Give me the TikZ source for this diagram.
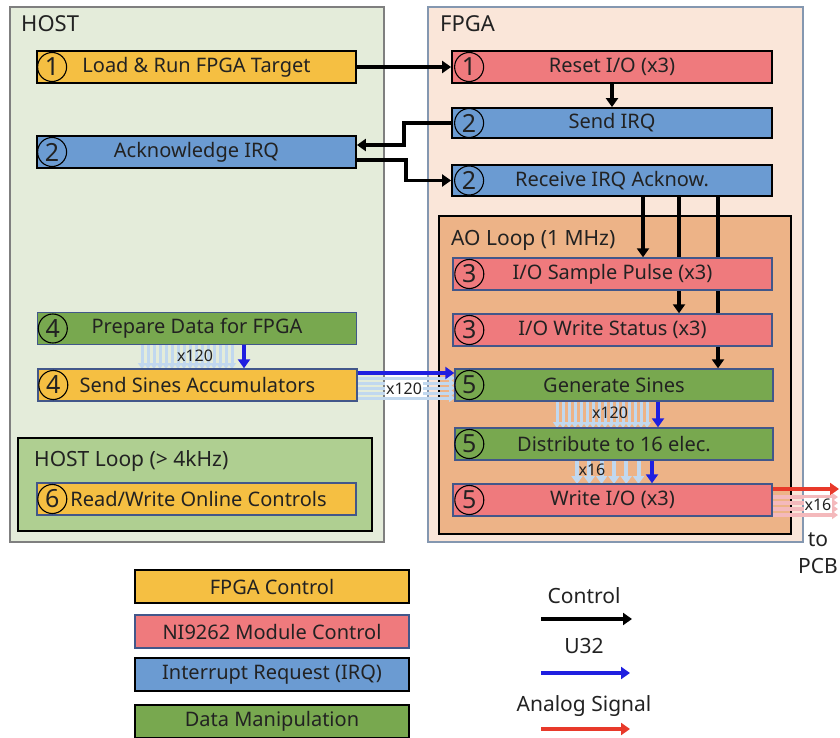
\documentclass[tikz,border=0pt]{standalone}
\usepackage{fontspec}
\setmainfont{Noto Sans}
\usetikzlibrary{arrows.meta,calc}
\definecolor{cOrange}{HTML}{F5BF42}
\definecolor{cRed}{HTML}{EF7A7D}
\definecolor{cBlue}{HTML}{6B9BD2}
\definecolor{cGreen}{HTML}{78A84F}
\definecolor{cHost}{HTML}{E4ECDA}
\definecolor{cFpga}{HTML}{FAE6D9}
\definecolor{cHostLoop}{HTML}{AFCF91}
\definecolor{cAoLoop}{HTML}{EDB387}
\definecolor{cBG}{HTML}{42578A}
\definecolor{cLB}{HTML}{C1D8EF}
\definecolor{cPink}{HTML}{F4B9BC}
\definecolor{cDB}{HTML}{1F1FE0}
\definecolor{cRA}{HTML}{E8392A}
\definecolor{cTxt}{HTML}{222222}
\definecolor{cHostB}{HTML}{7F7F7F}
\definecolor{cFpgaB}{HTML}{8497B0}
\pgfdeclarelayer{panel}
\pgfdeclarelayer{wire}
\pgfsetlayers{panel,wire,main}
\tikzset{
  bx/.style={draw=black, line width=1.8pt, minimum width=319pt, minimum height=32pt, inner sep=0pt,
    font=\fontsize{20}{22}\selectfont, text=cTxt},
  bgb/.style={draw=cBG, line width=1.4pt},
  lgbox/.style={bx, minimum width=274pt, minimum height=33pt},
  numc/.style={circle, draw=black, line width=1.1pt, minimum size=29pt, inner sep=0pt,
    font=\fontsize{25}{25}\selectfont, text=cTxt},
  ctrl/.style={draw=black, line width=3.5pt, -{Triangle[width=12pt,length=9pt]}},
  u32/.style={draw=cDB, line width=3.5pt, -{Triangle[width=12pt,length=9pt]}},
  ana/.style={draw=cRA, line width=3.5pt, -{Triangle[width=12pt,length=9pt]}},
  lbv/.style={draw=cLB, line width=3pt, -{Triangle[width=8pt,length=6pt]}},
  lbw/.style={draw=cLB, line width=4pt, -{Triangle[width=11pt,length=8pt]}},
  pk/.style={draw=cPink, line width=3.5pt, -{Triangle[width=8pt,length=6pt]}},
  ttl/.style={anchor=west, inner sep=0pt, font=\fontsize{22}{22}\selectfont, text=cTxt},
  loopttl/.style={anchor=west, inner sep=0pt, font=\fontsize{21}{21}\selectfont, text=cTxt},
  mult/.style={inner sep=1pt, font=\fontsize{16}{16}\selectfont, text=cTxt},
  lgtxt/.style={inner sep=0pt, font=\fontsize{21}{21}\selectfont, text=cTxt},
}
\newcommand\cnum[3]{\node[numc] (#1n) at ($(#1.west)+(#3,0)$) {#2};}
\begin{document}
\begin{tikzpicture}[x=1pt,y=-1pt]
\useasboundingbox (0,0) rectangle (840,738);
% panels
\begin{pgfonlayer}{panel}
  \draw[fill=cHost, draw=cHostB, line width=1.2pt] (10,7) rectangle (384,542);
  \draw[fill=cFpga, draw=cFpgaB, line width=1.2pt] (428,7) rectangle (803,542);
  \draw[fill=cHostLoop, draw=black, line width=1.8pt] (18,438) rectangle (372,531);
  \draw[fill=cAoLoop, draw=black, line width=1.8pt] (439,216) rectangle (791,534);
\end{pgfonlayer}
\node[ttl] (hostt) at (21,24) {HOST};
\node[ttl] (fpgat) at (440,24) {FPGA};
\node[loopttl] (hlt) at (34,461) {HOST Loop (> 4kHz)};
\node[loopttl] (aot) at (451,240) {AO Loop (1 MHz)};
% host boxes
\node[bx, fill=cOrange] (load) at (196.5,67) {Load \& Run FPGA Target};
\node[bx, fill=cBlue] (ack) at (196.5,152) {Acknowledge IRQ};
\node[bx, bgb, fill=cGreen] (prep) at (197,328.5) {Prepare Data for FPGA};
\node[bx, bgb, fill=cOrange] (send) at (197.5,385) {Send Sines Accumulators};
\node[bx, bgb, fill=cOrange] (rw) at (196.5,499) {\hspace*{4pt}Read/Write Online Controls};
% fpga boxes
\node[bx, fill=cRed, minimum width=320pt] (reset) at (612,67) {Reset I/O (x3)};
\node[bx, fill=cBlue, minimum width=320pt, minimum height=30pt] (sendirq) at (612,123) {Send IRQ};
\node[bx, fill=cBlue, minimum width=320pt, minimum height=31pt] (recv) at (612,180.5) {Receive IRQ Acknow.};
\node[bx, bgb, fill=cRed] (sample) at (612.5,274) {I/O Sample Pulse (x3)};
\node[bx, bgb, fill=cRed] (wstat) at (612.5,330) {I/O Write Status (x3)};
\node[bx, bgb, fill=cGreen, minimum width=318pt] (gen) at (614,385) {Generate Sines};
\node[bx, bgb, fill=cGreen, minimum width=318pt] (dist) at (614,444) {Distribute to 16 elec.};
\node[bx, bgb, fill=cRed] (wio) at (612.5,500) {Write I/O (x3)};
% circled numbers
\cnum{load}{1}{16}
\cnum{ack}{2}{16}
\cnum{prep}{4}{16}
\cnum{send}{4}{16}
\cnum{rw}{6}{16}
\cnum{reset}{1}{18}
\cnum{sendirq}{2}{18}
\cnum{recv}{2}{18}
\cnum{sample}{3}{17}
\cnum{wstat}{3}{17}
\cnum{gen}{5}{15}
\cnum{dist}{5}{15}
\cnum{wio}{5}{17}
% connectors
\begin{pgfonlayer}{wire}
  \draw[ctrl] (load.east) -- (reset.west);
  \draw[ctrl] (reset.south) -- (sendirq.north);
  \draw[ctrl] (sendirq.west) -- ++(-47,0) |- ($(ack.east)+(0,-7)$);
  \draw[ctrl] ($(ack.east)+(0,8)$) -- ++(49,0) |- (recv.west);
  \draw[ctrl] ($(recv.south)+(31,0)$) coordinate (r1) -- (r1 |- sample.north);
  \draw[ctrl] ($(recv.south)+(67,0)$) coordinate (r2) -- (r2 |- wstat.north);
  \draw[ctrl] ($(recv.south)+(106,0)$) coordinate (r3) -- (r3 |- gen.north);
  % prep -> send bundle
  \foreach \i in {0,...,15} { \draw[lbv] (142+6*\i,345) -- (142+6*\i,369); }
  % send -> gen bundle
  \foreach \j in {0,...,4} { \draw[lbv] (358,378+5*\j) -- (455,378+5*\j); }
  % gen -> dist bundle
  \foreach \i in {0,...,15} { \draw[lbv] (557+6*\i,402) -- (557+6*\i,428); }
  % dist -> wio bundle
  \foreach \i in {0,...,5} { \draw[lbw] (577+12.3*\i,461) -- (577+12.3*\i,484); }
  % wio -> out bundle
  \foreach \j in {0,...,3} { \draw[pk] (773,497+6*\j) -- (838,497+6*\j); }
  \draw[u32] ($(prep.south)+(47,0)$) coordinate (p1) -- (p1 |- send.north);
  \draw[u32] ($(send.east)+(0,-12)$) coordinate (s1) -- (s1 -| gen.west);
  \draw[u32] ($(gen.south)+(44,0)$) coordinate (g1) -- (g1 |- dist.north);
  \draw[u32] ($(dist.south)+(38,0)$) coordinate (d1) -- (d1 |- wio.north);
  \coordinate (pcb) at (839,489);
  \draw[ana] ($(wio.east)+(0,-11)$) coordinate (w1) -- (w1 -| pcb);
\end{pgfonlayer}
\node[mult] (m1) at (195,356) {x120};
\node[mult, fill=white] (m2) at (404,389) {x120};
\node[mult] (m3) at (610,413) {x120};
\node[mult] (m4) at (592,470) {x16};
\node[mult, fill=white] (m5) at (818,505) {x16};
\node[lgtxt] (to) at (818,540) {to};
\node[lgtxt] (pcbt) at (818,566) {PCB};
% legend
\node[lgbox, fill=cOrange] (l1) at (272,586.5) {FPGA Control};
\node[lgbox, bgb, fill=cRed] (l2) at (272,631.5) {NI9262 Module Control};
\node[lgbox, fill=cBlue] (l3) at (272,674.5) {Interrupt Request (IRQ)};
\node[lgbox, fill=cGreen] (l4) at (272,721.5) {Data Manipulation};
\node[lgtxt] (lc) at (584,596) {Control};
\node[lgtxt] (lu) at (584,646) {U32};
\node[lgtxt] (la) at (584,706) {Analog Signal};
\coordinate (ca) at (541,619); \coordinate (cb) at (632,619);
\coordinate (ua) at (541,673); \coordinate (ub) at (630,673);
\coordinate (aa) at (541,729); \coordinate (ab) at (630,729);
\draw[ctrl, line width=3.5pt] (ca) -- (cb);
\draw[u32, line width=3.5pt] (ua) -- (ub);
\draw[ana] (aa) -- (ab);
\end{tikzpicture}
\end{document}
